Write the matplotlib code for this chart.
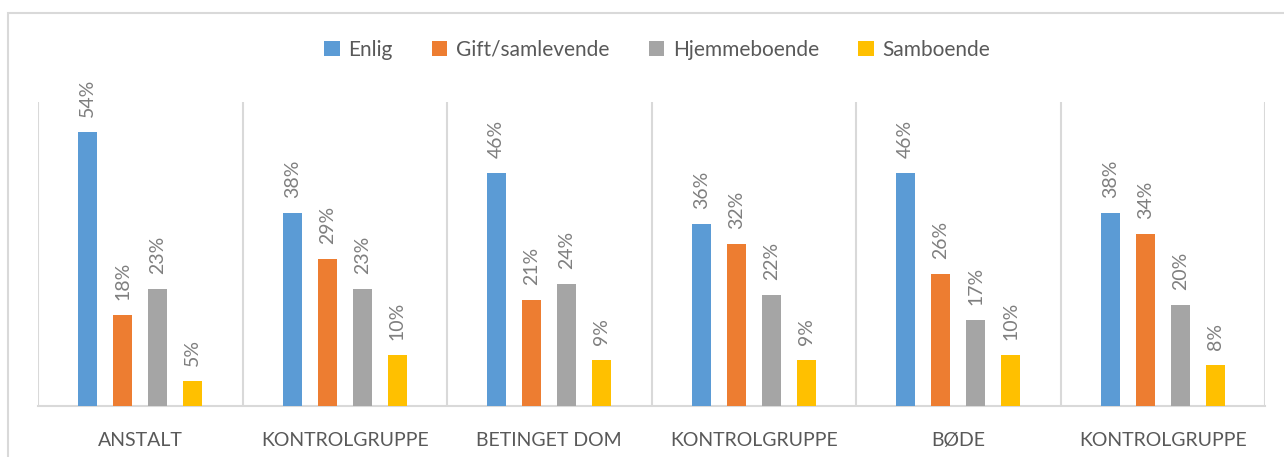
import numpy as np
import matplotlib.pyplot as plt
from matplotlib.patches import Rectangle

plt.rcParams['font.family'] = ['Lato', 'DejaVu Sans']

categories = ['ANSTALT', 'KONTROLGRUPPE', 'BETINGET DOM', 'KONTROLGRUPPE', 'BØDE', 'KONTROLGRUPPE']
series = ['Enlig', 'Gift/samlevende', 'Hjemmeboende', 'Samboende']
enlig = [54, 38, 46, 36, 46, 38]
gift = [18, 29, 21, 32, 26, 34]
hjemme = [23, 23, 24, 22, 17, 20]
samboende = [5, 10, 9, 9, 10, 8]

colors = ['#5B9BD5', '#ED7D31', '#A5A5A5', '#FFC000']
text_grey = '#595959'
label_grey = '#7F7F7F'
line_grey = '#D9D9D9'

W, H = 1284, 457
fig = plt.figure(figsize=(W / 100, H / 100), dpi=100)

# outer chart frame (bottom and right run off the page)
fig.patches.append(Rectangle((8 / W, -0.05), 1.2, (H - 13) / H + 0.05,
                             transform=fig.transFigure, fill=False,
                             edgecolor=line_grey, linewidth=1.5))

ax = fig.add_axes([38 / W, (H - 406) / H, 1227 / W, 304 / H])

x = np.arange(len(categories))
offsets = np.array([-52.5, -17.5, 17.5, 52.5]) / 204.5
bar_w = 19 / 204.5

for vals, name, col, off in zip([enlig, gift, hjemme, samboende], series, colors, offsets):
    bars = ax.bar(x + off, vals, width=bar_w, color=col, label=name, zorder=3)
    for b, v in zip(bars, vals):
        ax.annotate(f'{v}%', (b.get_x() + b.get_width() / 2, b.get_height()),
                    xytext=(0, 15), textcoords='offset pixels',
                    rotation=90, ha='center', va='bottom',
                    fontsize=14, color=label_grey)

ax.set_xlim(-0.5, len(categories) - 0.5)
ax.set_ylim(0, 60)
ax.set_yticks([])

# separators between categories
for b in np.arange(-0.5, len(categories), 1.0):
    ax.axvline(b, color=line_grey, linewidth=1.5, zorder=1)

for s in ['top', 'left', 'right']:
    ax.spines[s].set_visible(False)
ax.spines['bottom'].set_color(line_grey)
ax.spines['bottom'].set_linewidth(1.5)

ax.set_xticks(x)
ax.set_xticklabels(categories, fontsize=14, color=text_grey)
ax.tick_params(axis='x', length=0, pad=19)

ax.legend(loc='center', bbox_to_anchor=(657 / W, 1 - 50 / H),
          bbox_transform=fig.transFigure, ncol=4, frameon=False,
          fontsize=15, labelcolor=text_grey, handlelength=0.75,
          handleheight=0.75, handletextpad=0.4, columnspacing=1.9)

fig.savefig('out.png', dpi=100)
